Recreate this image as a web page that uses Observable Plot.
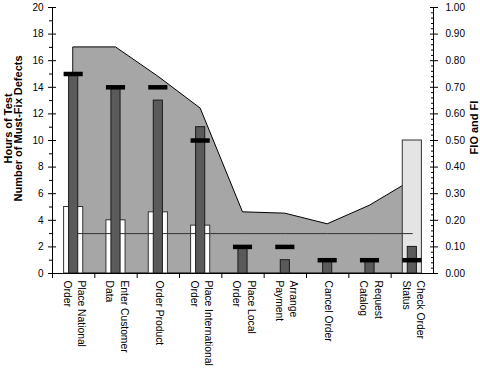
<!DOCTYPE html>
<html><head><meta charset="utf-8">
<script src="https://cdn.jsdelivr.net/npm/d3@7"></script>
<script src="https://cdn.jsdelivr.net/npm/@observablehq/plot@0.6"></script>
<style>
body{margin:0;background:#fff}
svg{display:block}
</style>
</head><body><div id="chart"></div>
<script>
// ---- data ----
const categories = ["Place National\nOrder", "Enter Customer\nData", "Order Product", "Place International\nOrder", "Place Local\nOrder", "Arrange\nPayment", "Cancel Order", "Request\nCatalog", "Check Order\nStatus"];
const hoursOfTest = [5, 4, 4.6, 3.6, null, null, null, null, 10];
const mustFixDefects = [15, 14, 13, 11, 2, 1, 1, 1, 2];
const fio = [0.85, 0.85, 0.74, 0.62, 0.23, 0.225, 0.185, 0.255, 0.35];
const fi = [0.75, 0.70, 0.70, 0.50, 0.10, 0.10, 0.05, 0.05, 0.05];
const targetHours = 3;
const leftTicks = [0, 2, 4, 6, 8, 10, 12, 14, 16, 18, 20];
const rightTicks = [0, 0.1, 0.2, 0.3, 0.4, 0.5, 0.6, 0.7, 0.8, 0.9, 1.0];

const data = categories.map((c, i) => ({category: c, hours: hoursOfTest[i], defects: mustFixDefects[i], fio: fio[i], fi: fi[i]}));

const W = 480, H = 369, mL = 52, mR = 47, mT = 7, mB = 96;
const bw = (W - mL - mR) / categories.length;
const toLeft = v => v * 20; // right axis (0–1) shares the left scale (0–20)
const leftMinor = d3.range(1, 20, 2);
const rightMinor = d3.range(0, 1.0001, 0.02).filter(v => Math.abs(v * 10 - Math.round(v * 10)) > 1e-6).map(toLeft);
const font = "'Liberation Sans', Arial, Helvetica, sans-serif";
const none = () => "";

const chart = Plot.plot({
  width: W, height: H,
  marginLeft: mL, marginRight: mR, marginTop: mT, marginBottom: mB,
  style: {fontFamily: font, fontSize: "10px", color: "black", background: "white", overflow: "visible"},
  x: {type: "band", domain: categories, padding: 0, round: false, axis: null},
  y: {domain: [0, 20], axis: null},
  marks: [
    Plot.areaY(data, {x: "category", y: d => toLeft(d.fio), fill: "#a6a6a6", stroke: "black", strokeWidth: 1}),
    Plot.barY(data.filter(d => d.hours != null), {x: "category", y: "hours",
      fill: d => d.category === categories[categories.length - 1] ? "#e4e4e4" : "white",
      stroke: "#333", strokeWidth: 1, insetLeft: 11.6, insetRight: 11.6}),
    Plot.lineY(data, {x: "category", y: () => targetHours, stroke: "#333", strokeWidth: 1}),
    Plot.barY(data, {x: "category", y: "defects", fill: "#5a5a5a", stroke: "#1a1a1a", strokeWidth: 1, insetLeft: 16.6, insetRight: 16.6}),
    Plot.tickY(data, {x: "category", y: d => toLeft(d.fi), stroke: "black", strokeWidth: 4.5, insetLeft: 11.6, insetRight: 11.6}),
    // axis lines
    Plot.ruleY([0], {stroke: "black"}),
    Plot.ruleX([categories[0]], {y1: 0, y2: 20, dx: -bw / 2, stroke: "black"}),
    Plot.ruleX([categories[categories.length - 1]], {y1: 0, y2: 20, dx: bw / 2, stroke: "black"}),
    // x ticks at band boundaries
    Plot.axisX(categories, {anchor: "bottom", tickSize: 5, dx: -bw / 2, tickFormat: none, label: null}),
    // left axis
    Plot.axisY(leftTicks, {anchor: "left", tickSize: 8, dx: 4, tickFormat: none, label: null}),
    Plot.axisY(leftMinor, {anchor: "left", tickSize: 3, tickFormat: none, label: null}),
    Plot.axisY(leftTicks, {anchor: "left", tickSize: 0, tickPadding: 9, fontSize: 10, label: null}),
    // right axis
    Plot.axisY(rightTicks.map(toLeft), {anchor: "right", tickSize: 8, dx: -4, tickFormat: none, label: null}),
    Plot.axisY(rightMinor, {anchor: "right", tickSize: 3, dx: -3, tickFormat: none, label: null}),
    Plot.axisY(rightTicks.map(toLeft), {anchor: "right", tickFormat: d => (d / 20).toFixed(2), tickSize: 0, tickPadding: 12, fontSize: 10, label: null}),
    // category labels
    Plot.text(categories, {x: d => d, frameAnchor: "bottom", dy: 7, dx: 2, rotate: 90, textAnchor: "start", lineAnchor: "middle", fontSize: 10.3, lineHeight: 1.38}),
    // axis titles
    Plot.text(["Hours of Test\nNumber of Must-Fix Defects"], {frameAnchor: "left", dx: -39, dy: -12, rotate: -90, textAnchor: "middle", fontWeight: "bold", fontSize: 11, lineHeight: 0.95, lineAnchor: "middle"}),
    Plot.text(["FIO and FI"], {frameAnchor: "right", dx: 41, dy: -13, rotate: -90, textAnchor: "middle", fontWeight: "bold", fontSize: 11, lineAnchor: "middle"})
  ]
});
document.getElementById("chart").append(chart);
</script>
</body></html>
